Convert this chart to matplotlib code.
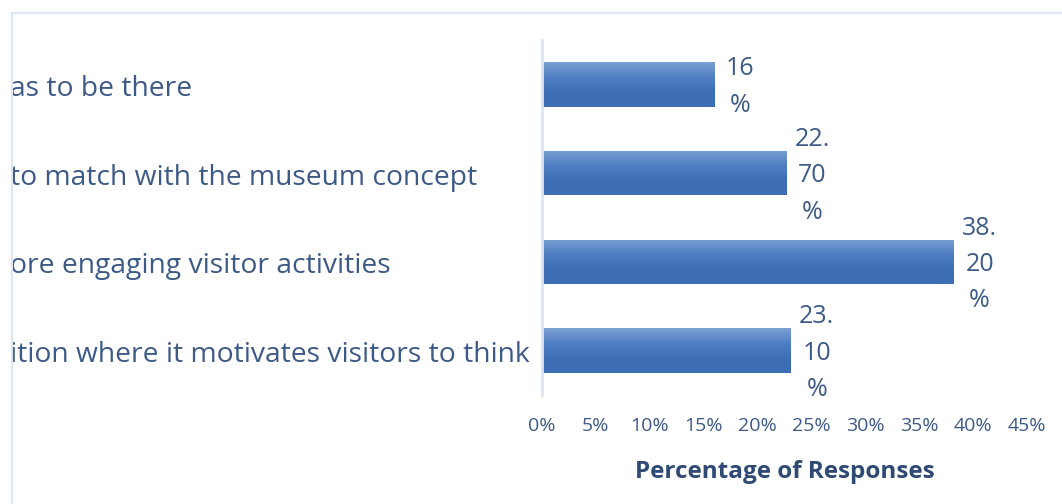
import numpy as np
import matplotlib
matplotlib.use("Agg")
import matplotlib.pyplot as plt
import matplotlib.transforms as mtransforms
from matplotlib.colors import LinearSegmentedColormap
from matplotlib.lines import Line2D
from matplotlib.patches import Rectangle

categories = [
    "as to be there",
    "to match with the museum concept",
    "ore engaging visitor activities",
    "ition where it motivates visitors to think",
]
values = [16.0, 22.7, 38.2, 23.1]
value_labels = ["16\n%", "22.\n70\n%", "38.\n20\n%", "23.\n10\n%"]
ticks = [0, 5, 10, 15, 20, 25, 30, 35, 40, 45]

text_color = "#3D5A87"
plt.rcParams["font.family"] = ["Open Sans", "DejaVu Sans"]

fig = plt.figure(figsize=(10.62, 5.04), dpi=100)
ax = fig.add_axes([542 / 1062, 1 - 395 / 504, (1027 - 542) / 1062, 355 / 504])

y = np.arange(len(categories))
bars = ax.barh(y, values, height=0.5, color="#4472C4", edgecolor="none")

# vertical gradient on each bar, lighter at the top
grad = LinearSegmentedColormap.from_list("bar", ["#7BA0D4", "#4F7FC2", "#3E6FB5", "#3D6DB3"])
for b in bars:
    x0, y0 = b.get_x(), b.get_y()
    w, h = b.get_width(), b.get_height()
    img = ax.imshow(np.linspace(0, 1, 64).reshape(-1, 1), cmap=grad, aspect="auto",
                    extent=(x0, x0 + w, y0 + h, y0), origin="upper", zorder=2)
    img.set_clip_path(b)
ax.set_xlim(0, 45)
ax.set_ylim(len(categories) - 0.5, -0.5)

for yi, v, lab in zip(y, values, value_labels):
    ax.text(v + 2.4, yi + 0.03, lab, ha="center", va="center", fontsize=18,
            color=text_color, linespacing=1.6)

for spine in ["top", "right", "bottom"]:
    ax.spines[spine].set_visible(False)
ax.spines["left"].set_color("#DCE5F3")
ax.spines["left"].set_linewidth(2)

ax.set_xticks(ticks)
ax.set_xticklabels([f"{t}%" for t in ticks])
ax.tick_params(axis="x", length=0, pad=16, labelsize=14, labelcolor=text_color)
ax.set_yticks(y)
ax.set_yticklabels([])
ax.tick_params(axis="y", length=0)

# category names start at the left frame, which cuts them off
label_tr = mtransforms.blended_transform_factory(fig.transFigure, ax.transData)
frame_clip = Rectangle((13, 0), 1062, 504, transform=None)
for yi, name in zip(y, categories):
    t = ax.text(10 / 1062, yi + 0.05, name, transform=label_tr, ha="left", va="center",
                fontsize=20.3, color=text_color, clip_on=True)
    t.set_clip_path(frame_clip)

ax.set_xlabel("Percentage of Responses", fontsize=17.5, fontweight="bold",
              color="#2E4A75", labelpad=18)

# chart area frame on the top and left
fig.add_artist(Line2D([12 / 1062, 12 / 1062], [0, 1 - 13 / 504], color="#DCE6F4", lw=1.5))
fig.add_artist(Line2D([12 / 1062, 1], [1 - 13 / 504, 1 - 13 / 504], color="#DCE6F4", lw=1.5))

fig.savefig("out.png", dpi=100)
